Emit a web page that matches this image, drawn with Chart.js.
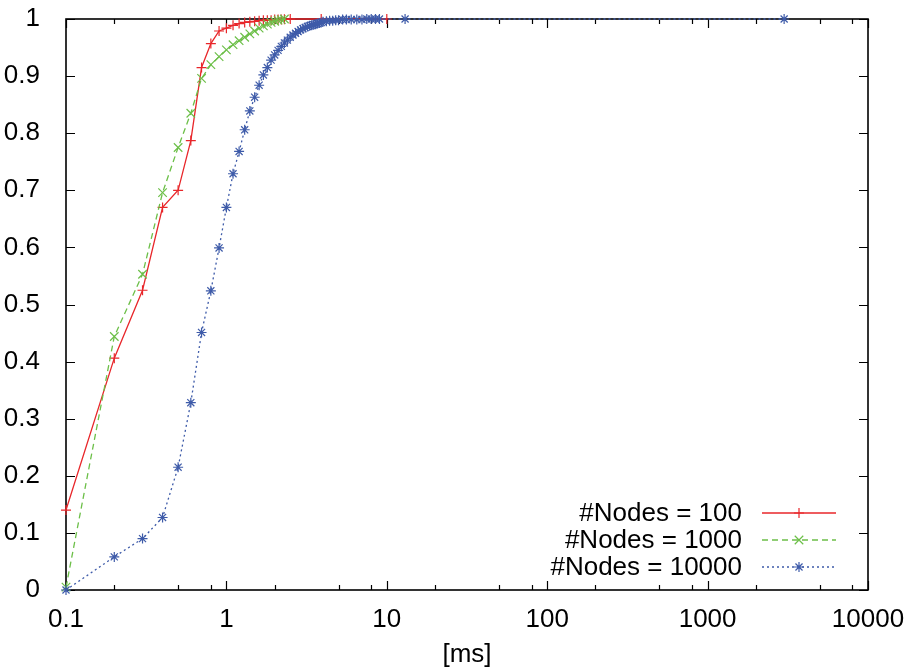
<!DOCTYPE html>
<html>
<head>
<meta charset="utf-8">
<script src="https://cdn.jsdelivr.net/npm/chart.js@4.4.1/dist/chart.umd.min.js"></script>
<style>
  html, body { margin: 0; padding: 0; background: #fff; }
  #wrap { width: 911px; height: 670px; }
</style>
</head>
<body>
<div id="wrap"><canvas id="cdf"></canvas></div>
<script>
// values (x in ms, y = cumulative fraction)
const x100 = [0.1, 0.2, 0.3, 0.4, 0.5, 0.6, 0.7, 0.8, 0.9, 1.0, 1.1, 1.2, 1.3, 1.4, 1.5, 1.6, 1.7, 1.8, 1.9, 2.0, 2.1, 2.2, 2.3, 2.5, 3.9, 10];
const y100 = [0.14, 0.406, 0.525, 0.67, 0.70, 0.787, 0.915, 0.957, 0.979, 0.984, 0.989, 0.992, 0.994, 0.995, 0.996, 0.997, 0.998, 0.998, 0.998, 0.999, 0.999, 0.999, 0.9995, 1.0, 1.0, 1.0];

const x1000 = [0.1, 0.2, 0.3, 0.4, 0.5, 0.6, 0.7, 0.8, 0.9, 1.0, 1.1, 1.2, 1.3, 1.4, 1.5, 1.6, 1.7, 1.8, 1.9, 2.0, 2.1, 2.2, 2.3];
const y1000 = [0.005, 0.444, 0.553, 0.696, 0.775, 0.835, 0.896, 0.920, 0.934, 0.946, 0.955, 0.962, 0.968, 0.974, 0.979, 0.984, 0.988, 0.991, 0.994, 0.996, 0.998, 0.999, 1.0];

const x10000 = [0.1, 0.2, 0.3, 0.4, 0.5, 0.6, 0.7, 0.8, 0.9, 1.0, 1.1, 1.2, 1.3, 1.4, 1.5, 1.6, 1.7, 1.8, 1.9, 2.0,
  2.1, 2.2, 2.3, 2.4, 2.5, 2.6, 2.7, 2.8, 2.9, 3.0, 3.1, 3.2, 3.3, 3.4, 3.5, 3.6, 3.7, 3.8, 3.9, 4.0,
  4.2, 4.4, 4.6, 4.8, 5.0, 5.3, 5.6, 6.0, 6.5, 7.0, 7.5, 8.0, 8.5, 9.0, 13, 3000];
const y10000 = [0, 0.058, 0.09, 0.127, 0.215, 0.328, 0.451, 0.524, 0.599, 0.670, 0.729, 0.768, 0.806, 0.839, 0.863, 0.884, 0.902, 0.915, 0.928, 0.937,
  0.945, 0.952, 0.958, 0.963, 0.968, 0.972, 0.975, 0.978, 0.981, 0.983, 0.985, 0.987, 0.988, 0.989, 0.990, 0.991, 0.992, 0.993, 0.994, 0.995,
  0.996, 0.997, 0.997, 0.998, 0.998, 0.999, 0.999, 0.999, 0.999, 0.999, 1.0, 1.0, 1.0, 1.0, 1.0, 1.0];

const seriesLabels = ["#Nodes = 100", "#Nodes = 1000", "#Nodes = 10000"];
const xTickValues = [0.1, 1, 10, 100, 1000, 10000];
const xMinorSteps = [2, 5, 8];
const yTickValues = [0, 0.1, 0.2, 0.3, 0.4, 0.5, 0.6, 0.7, 0.8, 0.9, 1];

const FONT = "'Liberation Sans', Arial, Helvetica, sans-serif";

function toPoints(xs, ys) {
  return xs.map((x, i) => ({ x: x, y: ys[i] }));
}

// frame with inward ticks on all four sides, like gnuplot
const frame = {
  id: "frame",
  beforeDatasetsDraw(chart) {
    const { ctx, chartArea: a, scales } = chart;
    ctx.save();
    ctx.strokeStyle = "#000";
    ctx.lineWidth = 1.2;
    ctx.beginPath();
    yTickValues.forEach((v) => {
      const y = Math.round(scales.y.getPixelForValue(v)) + 0.5;
      ctx.moveTo(a.left, y); ctx.lineTo(a.left + 9, y);
      ctx.moveTo(a.right, y); ctx.lineTo(a.right - 9, y);
    });
    xTickValues.forEach((v) => {
      const x = Math.round(scales.x.getPixelForValue(v)) + 0.5;
      ctx.moveTo(x, a.bottom); ctx.lineTo(x, a.bottom - 9);
      ctx.moveTo(x, a.top); ctx.lineTo(x, a.top + 9);
      xMinorSteps.forEach((s) => {
        if (v * s > 10000) return;
        const mx = Math.round(scales.x.getPixelForValue(v * s)) + 0.5;
        ctx.moveTo(mx, a.bottom); ctx.lineTo(mx, a.bottom - 5);
        ctx.moveTo(mx, a.top); ctx.lineTo(mx, a.top + 5);
      });
    });
    ctx.stroke();
    ctx.lineWidth = 1.6;
    ctx.strokeRect(a.left, a.top, a.right - a.left, a.bottom - a.top);
    ctx.restore();
  }
};

// key in the lower right: text right-aligned, then a line sample with its marker
const keyBox = {
  id: "keyBox",
  afterDraw(chart) {
    const { ctx, chartArea: a } = chart;
    const textRight = a.right - 126;
    const lineStart = a.right - 106;
    const lineEnd = a.right - 32;
    const rowY = [a.bottom - 77, a.bottom - 50, a.bottom - 23];
    ctx.save();
    chart.data.datasets.forEach((ds, i) => {
      const y = rowY[i];
      ctx.fillStyle = "#000";
      ctx.font = "26px " + FONT;
      ctx.textAlign = "right";
      ctx.textBaseline = "middle";
      ctx.fillText(ds.label, textRight, y + 1);
      ctx.strokeStyle = ds.borderColor;
      ctx.lineWidth = ds.borderWidth;
      ctx.setLineDash(ds.borderDash || []);
      ctx.beginPath();
      ctx.moveTo(lineStart, y);
      ctx.lineTo(lineEnd, y);
      ctx.stroke();
      ctx.setLineDash([]);
      ctx.lineWidth = ds.pointBorderWidth;
      Chart.helpers.drawPoint(ctx, {
        pointStyle: ds.pointStyle,
        radius: ds.pointRadius,
        rotation: 0,
        borderWidth: ds.pointBorderWidth
      }, (lineStart + lineEnd) / 2, y);
    });
    ctx.restore();
  }
};

const datasets = [
  {
    label: seriesLabels[0],
    data: toPoints(x100, y100),
    borderColor: "#e8262a",
    backgroundColor: "#e8262a",
    borderWidth: 1.3,
    pointStyle: "cross",
    pointRadius: 5,
    pointBorderWidth: 1.2,
    order: 3
  },
  {
    label: seriesLabels[1],
    data: toPoints(x1000, y1000),
    borderColor: "#6cbf48",
    backgroundColor: "#6cbf48",
    borderWidth: 1.3,
    borderDash: [6, 4],
    pointStyle: "crossRot",
    pointRadius: 6,
    pointBorderWidth: 1.2,
    order: 2
  },
  {
    label: seriesLabels[2],
    data: toPoints(x10000, y10000),
    borderColor: "#3e5ba9",
    backgroundColor: "#3e5ba9",
    borderWidth: 1.3,
    borderDash: [2, 3],
    pointStyle: "star",
    pointRadius: 5,
    pointBorderWidth: 1.2,
    order: 1
  }
];

datasets.forEach((ds) => {
  ds.showLine = true;
  ds.fill = false;
  ds.tension = 0;
  ds.clip = false;
  ds.pointHoverRadius = ds.pointRadius;
});

new Chart(document.getElementById("cdf"), {
  type: "scatter",
  data: { datasets: datasets },
  options: {
    responsive: true,
    maintainAspectRatio: false,
    animation: false,
    events: [],
    layout: { padding: { top: 19, right: 43, left: 0, bottom: 0 } },
    plugins: {
      legend: { display: false },
      tooltip: { enabled: false }
    },
    scales: {
      x: {
        type: "logarithmic",
        min: 0.1,
        max: 10000,
        grid: { display: false },
        border: { display: false },
        afterBuildTicks: (scale) => {
          scale.ticks = xTickValues.map((v) => ({ value: v }));
        },
        afterFit: (scale) => {
          scale.height = 80;
          scale.paddingLeft = 0;
          scale.paddingRight = 0;
        },
        ticks: {
          autoSkip: false,
          maxRotation: 0,
          padding: 6,
          color: "#000",
          font: { family: FONT, size: 26 },
          callback: (v) => String(v)
        },
        title: {
          display: true,
          text: "[ms]",
          color: "#000",
          font: { family: FONT, size: 26 },
          padding: { top: 0, bottom: 0 }
        }
      },
      y: {
        min: 0,
        max: 1,
        grid: { display: false },
        border: { display: false },
        afterBuildTicks: (scale) => {
          scale.ticks = yTickValues.map((v) => ({ value: v }));
        },
        afterFit: (scale) => {
          scale.width = 66;
          scale.paddingTop = 0;
          scale.paddingBottom = 0;
        },
        ticks: {
          padding: 18,
          color: "#000",
          font: { family: FONT, size: 26 },
          callback: (v) => String(v)
        }
      }
    }
  },
  plugins: [frame, keyBox]
});
</script>
</body>
</html>
